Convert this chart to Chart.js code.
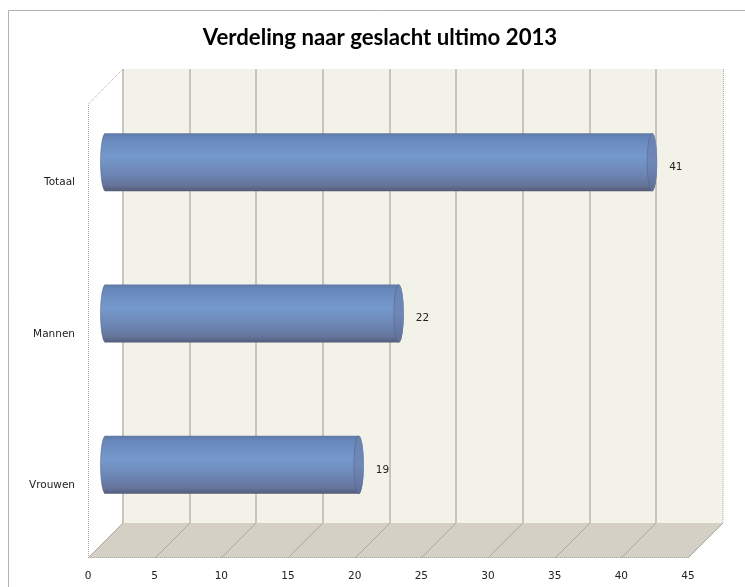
<!DOCTYPE html>
<html>
<head>
<meta charset="utf-8">
<script src="https://cdn.jsdelivr.net/npm/chart.js@4/dist/chart.umd.min.js"></script>
<style>
  html, body { margin: 0; padding: 0; background: #fff; }
  #wrap { width: 745px; height: 587px; }
</style>
</head>
<body>
<div id="wrap"><canvas id="chart" width="745" height="587"></canvas></div>
<script>
  // data
  const TITLE = 'Verdeling naar geslacht ultimo 2013';
  const categories = ['Totaal', 'Mannen', 'Vrouwen'];
  const values = [41, 22, 19];
  const xTicks = [0, 5, 10, 15, 20, 25, 30, 35, 40, 45];

  const DEPTH = 35;
  const TICK_FONT = { family: '"DejaVu Sans", sans-serif', size: 10.5 };

  function dotted(ctx, pts, color) {
    ctx.save();
    ctx.strokeStyle = color;
    ctx.lineWidth = 1;
    ctx.setLineDash([1, 1]);
    ctx.beginPath();
    pts.forEach((p, i) => (i ? ctx.lineTo(p[0], p[1]) : ctx.moveTo(p[0], p[1])));
    ctx.stroke();
    ctx.restore();
  }

  // frame, back wall, floor and grid lines
  const scenePlugin = {
    id: 'scene',
    beforeDraw(chart) {
      const ctx = chart.ctx;
      ctx.save();
      ctx.strokeStyle = '#b9aeb2';
      ctx.lineWidth = 1;
      ctx.beginPath();
      ctx.moveTo(8.5, 587);
      ctx.lineTo(8.5, 10.5);
      ctx.lineTo(745, 10.5);
      ctx.stroke();

      ctx.fillStyle = '#000';
      ctx.textAlign = 'center';
      ctx.textBaseline = 'middle';
      let size = 21;
      ctx.font = 'bold ' + size + 'px Lato, sans-serif';
      const w = ctx.measureText(TITLE).width;
      size = size * 354 / w;
      ctx.font = 'bold ' + size.toFixed(1) + 'px Lato, sans-serif';
      ctx.fillText(TITLE, 380, 38);
      ctx.restore();
    },
    beforeDatasetsDraw(chart) {
      const ctx = chart.ctx;
      const xs = chart.scales.x;
      const area = chart.chartArea;
      const x0 = xs.getPixelForValue(xTicks[0]);
      const x1 = xs.getPixelForValue(xTicks[xTicks.length - 1]);
      const wallTop = area.top - DEPTH;
      const wallBot = area.bottom - DEPTH;

      ctx.save();
      // back wall
      ctx.fillStyle = '#f2f2e8';
      ctx.fillRect(x0 + DEPTH, wallTop, x1 - x0, wallBot - wallTop);
      // floor
      ctx.fillStyle = '#d5d0c6';
      ctx.beginPath();
      ctx.moveTo(x0, area.bottom);
      ctx.lineTo(x1, area.bottom);
      ctx.lineTo(x1 + DEPTH, wallBot);
      ctx.lineTo(x0 + DEPTH, wallBot);
      ctx.closePath();
      ctx.fill();

      xTicks.forEach((v, i) => {
        const px = Math.round(xs.getPixelForValue(v));
        if (i < xTicks.length - 1) {
          ctx.strokeStyle = '#cbc4bb';
          ctx.lineWidth = 2;
          ctx.beginPath();
          ctx.moveTo(px + DEPTH, wallTop);
          ctx.lineTo(px + DEPTH, wallBot);
          ctx.stroke();
        }
        ctx.strokeStyle = '#aea79e';
        ctx.lineWidth = 1;
        ctx.beginPath();
        ctx.moveTo(px, area.bottom);
        ctx.lineTo(px + DEPTH, wallBot);
        ctx.stroke();
      });
      ctx.restore();

      // outlines of the side wall and the plot box
      dotted(ctx, [[x0 + 0.5, area.bottom], [x0 + 0.5, area.top], [x0 + DEPTH, wallTop]], '#a9a6a6');
      dotted(ctx, [[x0, area.bottom - 0.5], [x1, area.bottom - 0.5], [x1 + DEPTH, wallBot], [x1 + DEPTH + 0.5, wallTop]], '#a9a6a6');
    },
    afterDatasetsDraw(chart) {
      const ctx = chart.ctx;
      const meta = chart.getDatasetMeta(0);
      const half = DEPTH / 2;
      meta.data.forEach((el, i) => {
        const p = el.getProps(['x', 'y', 'base', 'height'], true);
        const xa = p.base + half;
        const xb = p.x + half;
        const yc = p.y - half;
        const ry = p.height / 2;
        const top = yc - ry;
        const rx = 5;

        ctx.save();
        const g = ctx.createLinearGradient(0, top, 0, top + p.height);
        g.addColorStop(0, '#5f79a8');
        g.addColorStop(0.08, '#6787ba');
        g.addColorStop(0.4, '#7599cd');
        g.addColorStop(0.7, '#6c86b4');
        g.addColorStop(0.9, '#65749a');
        g.addColorStop(1, '#535c78');
        ctx.fillStyle = g;
        ctx.beginPath();
        ctx.ellipse(xa, yc, rx, ry, 0, Math.PI / 2, Math.PI * 1.5);
        ctx.lineTo(xb, top);
        ctx.ellipse(xb, yc, rx, ry, 0, -Math.PI / 2, Math.PI / 2);
        ctx.closePath();
        ctx.fill();
        ctx.strokeStyle = 'rgba(70,80,110,0.45)';
        ctx.lineWidth = 1;
        ctx.beginPath();
        ctx.ellipse(xa, yc, rx, ry, 0, Math.PI / 2, Math.PI * 1.5);
        ctx.stroke();

        // end cap
        const cg = ctx.createLinearGradient(0, top, 0, top + p.height);
        cg.addColorStop(0, '#6a82b1');
        cg.addColorStop(0.5, '#7088b8');
        cg.addColorStop(1, '#5f6f96');
        ctx.fillStyle = cg;
        ctx.beginPath();
        ctx.ellipse(xb, yc, rx, ry, 0, 0, Math.PI * 2);
        ctx.fill();
        ctx.strokeStyle = 'rgba(80,95,130,0.5)';
        ctx.beginPath();
        ctx.ellipse(xb, yc, rx, ry, 0, Math.PI / 2, Math.PI * 1.5);
        ctx.stroke();

        // value label
        ctx.fillStyle = '#222';
        ctx.font = TICK_FONT.size + 'px ' + TICK_FONT.family;
        ctx.textAlign = 'left';
        ctx.textBaseline = 'middle';
        ctx.fillText(String(values[i]), xb + 17, yc + 5);
        ctx.restore();
      });
    },
  };

  new Chart(document.getElementById('chart'), {
    type: 'bar',
    data: {
      labels: categories,
      datasets: [{
        data: values,
        backgroundColor: 'rgba(0,0,0,0)',
        borderWidth: 0,
        barThickness: 58,
      }],
    },
    options: {
      indexAxis: 'y',
      responsive: false,
      devicePixelRatio: 1,
      animation: false,
      layout: { padding: { top: 104, right: 57, bottom: 0, left: 0 } },
      plugins: {
        legend: { display: false },
        tooltip: { enabled: false },
        title: { display: false },
      },
      scales: {
        x: {
          type: 'linear',
          min: xTicks[0],
          max: xTicks[xTicks.length - 1],
          ticks: { stepSize: xTicks[1] - xTicks[0], color: '#222', font: TICK_FONT, padding: 12, maxRotation: 0 },
          grid: { display: false, drawTicks: false },
          border: { display: false },
          afterFit(s) { s.height = 29; },
        },
        y: {
          ticks: { color: '#222', font: TICK_FONT, padding: 13, labelOffset: 3 },
          grid: { display: false, drawTicks: false },
          border: { display: false },
          afterFit(s) { s.width = 88; },
        },
      },
    },
    plugins: [scenePlugin],
  });
</script>
</body>
</html>
